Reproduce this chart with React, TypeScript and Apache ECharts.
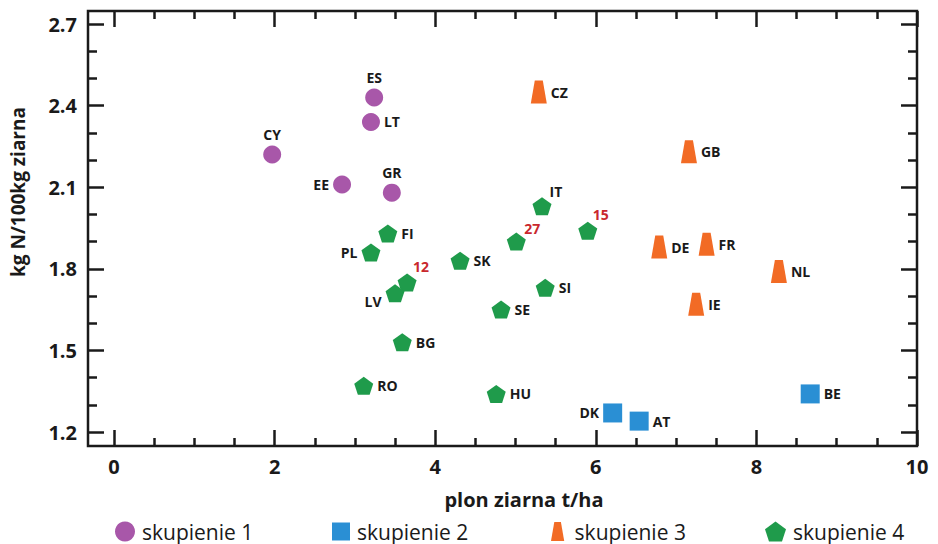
import React, { useEffect, useRef } from "react";
import * as echarts from "echarts";

// ---------- data ----------
const clusterNames = ["skupienie 1", "skupienie 2", "skupienie 3", "skupienie 4"];

const c1Codes = ["CY", "ES", "LT", "EE", "GR"];
const c1X = [1.97, 3.24, 3.2, 2.84, 3.46];
const c1Y = [2.22, 2.43, 2.34, 2.11, 2.08];

const c2Codes = ["DK", "AT", "BE"];
const c2X = [6.21, 6.54, 8.67];
const c2Y = [1.27, 1.24, 1.34];

const c3Codes = ["CZ", "GB", "DE", "FR", "NL", "IE"];
const c3X = [5.29, 7.16, 6.79, 7.38, 8.28, 7.25];
const c3Y = [2.45, 2.23, 1.88, 1.89, 1.79, 1.67];

const c4Codes = ["IT", "27", "15", "SK", "FI", "PL", "12", "LV", "BG", "RO", "SI", "SE", "HU"];
const c4X = [5.33, 5.01, 5.9, 4.31, 3.41, 3.2, 3.65, 3.5, 3.59, 3.11, 5.37, 4.82, 4.76];
const c4Y = [2.03, 1.9, 1.94, 1.83, 1.93, 1.86, 1.75, 1.71, 1.53, 1.37, 1.73, 1.65, 1.34];

const xMin = 0;
const xMax = 10;
const xStep = 2;
const yMin = 1.2;
const yMax = 2.7;
const yStep = 0.3;

const xTitle = "plon ziarna t/ha";
const yTitle = "kg N/100kg ziarna";

// ---------- styles ----------
const FONT = '"Open Sans", "DejaVu Sans", sans-serif';
const INK = "#1a1a1a";
const colors = ["#a857a9", "#2a8fd4", "#f26b25", "#1f9b4b"];
const redLabel = "#c9282d";

const trapezoid = "path://M4 0 L12 0 L16 23 L0 23 Z";
const pentagon = "path://M10 0 L19.51 6.91 L15.88 18.09 L4.12 18.09 L0.49 6.91 Z";
const symbols = ["circle", "rect", trapezoid, pentagon];
const symbolSizes: any[] = [18, 19, [16, 23], [19, 18]];

const labelPlacement: Record<string, { pos: string; dx?: number; dy?: number }> = {
  CY: { pos: "top" },
  ES: { pos: "top" },
  GR: { pos: "top" },
  EE: { pos: "left" },
  PL: { pos: "left" },
  DK: { pos: "left" },
  LV: { pos: "left", dy: 8 },
  IT: { pos: "top", dx: 14, dy: 1 },
  "27": { pos: "top", dx: 16, dy: 3 },
  "15": { pos: "top", dx: 13, dy: 0 },
  "12": { pos: "top", dx: 14, dy: 0 },
};
const redCodes = ["12", "27", "15"];

function makeData(codes: string[], xs: number[], ys: number[]) {
  return codes.map((code, i) => {
    const p = labelPlacement[code] || { pos: "right" };
    return {
      name: code,
      value: [xs[i], ys[i]],
      label: {
        show: true,
        position: p.pos,
        distance: p.pos === "top" && p.dx ? 0 : 4,
        offset: [p.dx || 0, p.dy || 0],
        color: redCodes.includes(code) ? redLabel : INK,
      },
    };
  });
}

export default function App() {
  const ref = useRef<HTMLDivElement>(null);

  useEffect(() => {
    if (!ref.current) return;
    const chart = echarts.init(ref.current, undefined, { renderer: "svg" });

    const tickStyle = { color: INK, width: 2.5 };
    const baseAxis = {
      type: "value" as const,
      splitLine: { show: false },
      axisLine: { show: false, onZero: false },
      axisTick: { show: true, inside: true, length: 16, lineStyle: tickStyle },
    };

    const seriesData = [
      makeData(c1Codes, c1X, c1Y),
      makeData(c2Codes, c2X, c2Y),
      makeData(c3Codes, c3X, c3Y),
      makeData(c4Codes, c4X, c4Y),
    ];

    const legendLeft = [115, 332, 551, 765];
    const legendIconW = [20, 18, 20, 21];
    const legendIconH = [20, 18, 19, 20];

    chart.setOption({
      animation: false,
      backgroundColor: "#ffffff",
      grid: { left: 114, right: 21, top: 24, bottom: 112, containLabel: false },
      xAxis: [
        {
          ...baseAxis,
          position: "bottom",
          min: xMin,
          max: xMax,
          interval: xStep,
          offset: 14,
          minorTick: { show: true, splitNumber: 4, length: 8, lineStyle: tickStyle },
          axisLabel: {
            color: INK,
            fontFamily: FONT,
            fontWeight: "bold",
            fontSize: 20,
            margin: 10,
          },
        },
        {
          ...baseAxis,
          position: "top",
          min: xMin,
          max: xMax,
          interval: xStep,
          offset: 13,
          minorTick: { show: true, splitNumber: 4, length: 8, lineStyle: tickStyle },
          axisLabel: { show: false },
        },
      ],
      yAxis: [
        {
          ...baseAxis,
          position: "left",
          min: yMin,
          max: yMax,
          interval: yStep,
          offset: 26,
          minorTick: { show: true, splitNumber: 3, length: 9, lineStyle: tickStyle },
          axisLabel: {
            color: INK,
            fontFamily: FONT,
            fontWeight: "bold",
            fontSize: 20,
            margin: 11,
            formatter: (v: number) => v.toFixed(1),
          },
        },
        {
          ...baseAxis,
          position: "right",
          min: yMin,
          max: yMax,
          interval: yStep,
          offset: 0,
          minorTick: { show: true, splitNumber: 3, length: 9, lineStyle: tickStyle },
          axisLabel: { show: false },
        },
      ],
      legend: clusterNames.map((n, i) => ({
        data: [n],
        left: legendLeft[i],
        top: 521,
        padding: 0,
        orient: "horizontal",
        itemWidth: legendIconW[i],
        itemHeight: legendIconH[i],
        itemGap: 0,
        symbolKeepAspect: true,
        textStyle: { color: INK, fontFamily: FONT, fontSize: 21, padding: [0, 0, 0, 2] },
        selectedMode: false,
      })),
      graphic: [
        {
          type: "rect",
          shape: { x: 88, y: 11, width: 829, height: 435 },
          style: { fill: "none", stroke: INK, lineWidth: 2.5 },
          silent: true,
          z: 1,
        },
        {
          type: "text",
          x: 524,
          y: 499,
          style: {
            text: xTitle,
            font: `bold 20px ${FONT}`,
            fill: INK,
            textAlign: "center",
            textVerticalAlign: "middle",
          },
        },
        {
          type: "text",
          x: 18,
          y: 192,
          rotation: Math.PI / 2,
          style: {
            text: yTitle,
            font: `bold 19px ${FONT}`,
            fill: INK,
            textAlign: "center",
            textVerticalAlign: "middle",
          },
        },
      ],
      series: clusterNames.map((n, i) => ({
        name: n,
        type: "scatter",
        xAxisIndex: 0,
        yAxisIndex: 0,
        symbol: symbols[i],
        symbolSize: symbolSizes[i],
        itemStyle: { color: colors[i], opacity: 1 },
        label: {
          show: true,
          formatter: "{b}",
          fontFamily: FONT,
          fontWeight: "bold",
          fontSize: 14,
          color: INK,
        },
        emphasis: { disabled: true },
        data: seriesData[i],
        z: 3,
      })),
    });

    return () => chart.dispose();
  }, []);

  return (
    <div
      ref={ref}
      style={{ position: "absolute", left: 0, top: 0, width: 938, height: 544 }}
    />
  );
}
